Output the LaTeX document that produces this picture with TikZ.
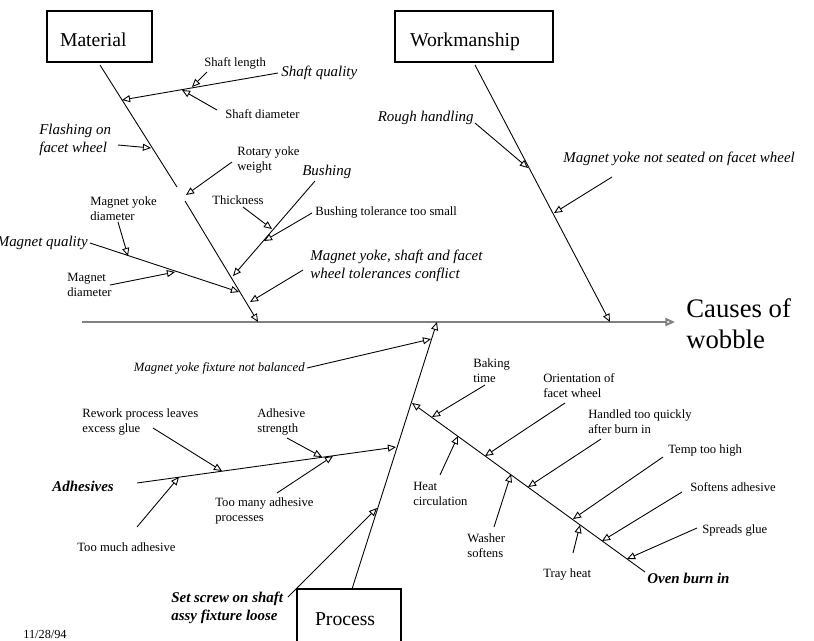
\documentclass[tikz,border=0pt]{standalone}
\usepackage{fontspec}
\setmainfont{Liberation Serif}
\usetikzlibrary{arrows.meta}
\tikzset{
    bone/.style={draw, line width=0.5pt, -{Triangle[open, length=4.6pt, width=4pt]}},
    bare/.style={draw, line width=0.5pt},
    spine/.style={draw, black!50, line width=1.1pt, -{Triangle[open, length=5.5pt, width=4.6pt]}},
    catbox/.style={draw, line width=0.6pt, font=\fontsize{11.2}{13}\selectfont, align=left, inner ysep=0pt, text depth=0pt},
    cause/.style={font=\fontsize{7.2}{8.5}\selectfont, inner sep=0pt, align=left},
    icause/.style={font=\fontsize{8.5}{10}\selectfont\itshape, inner sep=0pt, align=left},
    bcause/.style={font=\fontsize{8.5}{10}\selectfont\bfseries\itshape, inner sep=0pt, align=left}
}
\begin{document}
\begin{tikzpicture}[x=0.02cm, y=-0.02cm]
    \useasboundingbox (0,0) rectangle (814,640);
    % spine
    \coordinate (sp0) at (82, 322);
    \coordinate (sp1) at (675, 322);
    \draw[spine] (sp0) -- (sp1);
    \node[anchor=west, inner sep=0pt, align=left, font=\fontsize{15.2}{17.6}\selectfont] (effect) at (686, 324) {Causes of\\wobble};

    % Material
    \node[catbox, text width=1.58cm, inner xsep=0.26cm, minimum height=1.02cm, text height=11.4pt] (material) at (99.5, 36.5) {Material};
    \coordinate (m0) at (100, 65);
    \coordinate (m1) at (177, 187);
    \coordinate (m2) at (185, 201);
    \coordinate (m3) at (258, 322);
    \draw[bare] (m0) -- (m1);
    \draw[bone] (m2) -- (m3);
    \coordinate (sq) at (278, 73);
    \coordinate (sq1) at (122, 100);
    \coordinate (sl) at (207, 72);
    \coordinate (sl1) at (192, 87);
    \coordinate (sd) at (217, 110);
    \coordinate (sd1) at (182, 90);
    \coordinate (fl) at (118, 145);
    \coordinate (fl1) at (151, 148);
    \coordinate (ry) at (232, 162);
    \coordinate (ry1) at (186, 195);
    \coordinate (bu) at (315, 181);
    \coordinate (bu1) at (233, 276);
    \coordinate (th) at (243, 207);
    \coordinate (th1) at (272, 229);
    \coordinate (bt) at (312, 213);
    \coordinate (bt1) at (264, 241);
    \coordinate (ys) at (303, 270);
    \coordinate (ys1) at (250, 302);
    \coordinate (mq) at (90, 243);
    \coordinate (mq1) at (239, 292);
    \coordinate (yd) at (118, 222);
    \coordinate (yd1) at (128, 256);
    \coordinate (md) at (110, 285);
    \coordinate (md1) at (175, 272);
    \draw[bone] (sq) -- (sq1);
    \draw[bone] (sl) -- (sl1);
    \draw[bone] (sd) -- (sd1);
    \draw[bone] (fl) -- (fl1);
    \draw[bone] (ry) -- (ry1);
    \draw[bone] (bu) -- (bu1);
    \draw[bone] (th) -- (th1);
    \draw[bone] (bt) -- (bt1);
    \draw[bone] (ys) -- (ys1);
    \draw[bone] (mq) -- (mq1);
    \draw[bone] (yd) -- (yd1);
    \draw[bone] (md) -- (md1);
    \node[cause, anchor=west] (shaftlen) at (204, 63) {Shaft length};
    \node[icause, anchor=west] (shaftq) at (281, 73) {Shaft quality};
    \node[cause, anchor=west] (shaftdia) at (225, 114) {Shaft diameter};
    \node[icause, anchor=west] (flash) at (39, 140) {Flashing on\\facet wheel};
    \node[cause, anchor=west] (rotary) at (237, 160) {Rotary yoke\\weight};
    \node[icause, anchor=west] (bushing) at (302, 172) {Bushing};
    \node[cause, anchor=west] (thick) at (212, 200) {Thickness};
    \node[cause, anchor=west] (bushtol) at (315, 212) {Bushing tolerance too small};
    \node[icause, anchor=west] (yokeshaft) at (310, 266) {Magnet yoke, shaft and facet\\wheel tolerances conflict};
    \node[cause, anchor=west] (yokedia) at (90, 209) {Magnet yoke\\diameter};
    \node[icause, anchor=east] (magq) at (88, 243) {Magnet quality};
    \node[cause, anchor=west] (magdia) at (67, 285) {Magnet\\diameter};

    % Workmanship
    \node[catbox, text width=2.56cm, inner xsep=0.3cm, minimum height=1.02cm, text height=11.4pt] (workmanship) at (474, 36.5) {Workmanship};
    \coordinate (w0) at (475, 65);
    \coordinate (w1) at (610, 322);
    \coordinate (rh) at (475, 123);
    \coordinate (rh1) at (528, 168);
    \coordinate (ns) at (612, 177);
    \coordinate (ns1) at (554, 213);
    \draw[bone] (w0) -- (w1);
    \draw[bone] (rh) -- (rh1);
    \draw[bone] (ns) -- (ns1);
    \node[icause, anchor=east] (rough) at (474, 118) {Rough handling};
    \node[icause, anchor=west] (notseated) at (563, 159) {Magnet yoke not seated on facet wheel};

    % Process
    \node[catbox, text width=1.36cm, inner xsep=0.36cm, minimum height=1.22cm, text height=6.8pt] (process) at (349, 619.5) {Process};
    \coordinate (p0) at (352, 589);
    \coordinate (p1) at (437, 322);
    \coordinate (fx) at (307, 368);
    \coordinate (fx1) at (431, 339);
    \coordinate (ad) at (137, 483);
    \coordinate (ad1) at (396, 447);
    \coordinate (rw) at (153, 428);
    \coordinate (rw1) at (222, 471);
    \coordinate (as) at (287, 438);
    \coordinate (as1) at (322, 457);
    \coordinate (tm) at (277, 493);
    \coordinate (tm1) at (333, 456);
    \coordinate (tu) at (137, 527);
    \coordinate (tu1) at (179, 477);
    \coordinate (ss) at (288, 597);
    \coordinate (ss1) at (377, 508);
    \draw[bone] (p0) -- (p1);
    \draw[bone] (fx) -- (fx1);
    \draw[bone] (ad) -- (ad1);
    \draw[bone] (rw) -- (rw1);
    \draw[bone] (as) -- (as1);
    \draw[bone] (tm) -- (tm1);
    \draw[bone] (tu) -- (tu1);
    \draw[bone] (ss) -- (ss1);
    \node[anchor=east, inner sep=0pt, font=\fontsize{7.25}{8.5}\selectfont\itshape] (fixture) at (305, 368) {Magnet yoke fixture not balanced};
    \node[bcause, anchor=west] (adhesives) at (52, 486) {Adhesives};
    \node[cause, anchor=west] (rework) at (82, 422) {Rework process leaves\\excess glue};
    \node[cause, anchor=west] (strength) at (257, 422) {Adhesive\\strength};
    \node[cause, anchor=west] (toomany) at (215, 511) {Too many adhesive\\processes};
    \node[cause, anchor=west] (toomuch) at (77, 547) {Too much adhesive};
    \node[bcause, anchor=west] (setscrew) at (171, 608) {Set screw on shaft\\assy fixture loose};

    % Oven burn in
    \coordinate (ov) at (645, 572);
    \coordinate (ov1) at (412, 403);
    \coordinate (bk) at (485, 385);
    \coordinate (bk1) at (432, 417);
    \coordinate (hc) at (440, 475);
    \coordinate (hc1) at (458, 436);
    \coordinate (or) at (565, 403);
    \coordinate (or1) at (485, 456);
    \coordinate (ws) at (494, 527);
    \coordinate (ws1) at (511, 474);
    \coordinate (hq) at (601, 439);
    \coordinate (hq1) at (528, 487);
    \coordinate (tp) at (663, 457);
    \coordinate (tp1) at (573, 519);
    \coordinate (tr) at (573, 553);
    \coordinate (tr1) at (580, 525);
    \coordinate (sa) at (682, 492);
    \coordinate (sa1) at (602, 541);
    \coordinate (sg) at (697, 528);
    \coordinate (sg1) at (627, 559);
    \draw[bone] (ov) -- (ov1);
    \draw[bone] (bk) -- (bk1);
    \draw[bone] (hc) -- (hc1);
    \draw[bone] (or) -- (or1);
    \draw[bone] (ws) -- (ws1);
    \draw[bone] (hq) -- (hq1);
    \draw[bone] (tp) -- (tp1);
    \draw[bone] (tr) -- (tr1);
    \draw[bone] (sa) -- (sa1);
    \draw[bone] (sg) -- (sg1);
    \node[bcause, anchor=west] (oven) at (647, 578) {Oven burn in};
    \node[cause, anchor=west] (baking) at (473, 371) {Baking\\time};
    \node[cause, anchor=west] (orient) at (543, 386) {Orientation of\\facet wheel};
    \node[cause, anchor=west] (handled) at (588, 422) {Handled too quickly\\after burn in};
    \node[cause, anchor=west] (temp) at (668, 450) {Temp too high};
    \node[cause, anchor=west] (heatcirc) at (413, 494) {Heat\\circulation};
    \node[cause, anchor=west] (softens) at (690, 487) {Softens adhesive};
    \node[cause, anchor=west] (spreads) at (702, 530) {Spreads glue};
    \node[cause, anchor=west] (washer) at (467, 546) {Washer\\softens};
    \node[cause, anchor=west] (tray) at (543, 574) {Tray heat};

    \node[anchor=west, inner sep=0pt, font=\fontsize{7}{8}\selectfont] (date) at (23, 634) {11/28/94};
\end{tikzpicture}
\end{document}
